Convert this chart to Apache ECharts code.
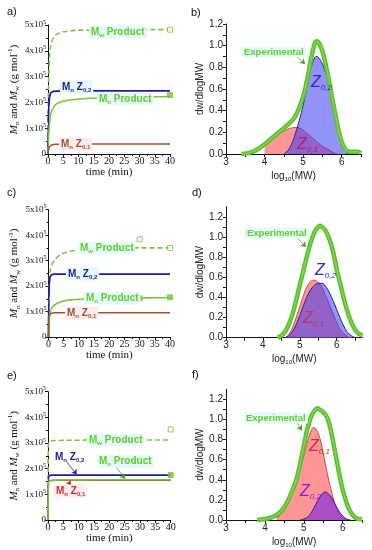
<!DOCTYPE html>
<html><head><meta charset="utf-8">
<script src="https://cdn.jsdelivr.net/npm/echarts@6/dist/echarts.min.js"></script>
<style>html,body{margin:0;padding:0;background:#fff}#c{width:372px;height:550px}</style>
</head><body><div id="c"></div>
<script>
// ---------- DATA ----------
// left panels: time (min)
const tGrid = [0, 0.1, 0.25, 0.5, 0.75, 1, 1.5, 2, 3, 4, 5, 7.5, 10, 15, 20, 25, 30, 35, 40];
// panel a (g/mol)
const aMwProduct = [0, 200000, 300000, 380000, 410000, 425000, 445000, 455000, 465000, 470000, 474000, 478000, 480000, 480000, 481000, 481000, 482000, 482000, 482000];
const aMnZ02 = [0, 120000, 180000, 220000, 232000, 238000, 242000, 243000, 244000, 244000, 244000, 245000, 245000, 245000, 245000, 245000, 245000, 245000, 245000];
const aMnProduct = [0, 40000, 80000, 120000, 145000, 160000, 175000, 185000, 196000, 201000, 205000, 210000, 213000, 217000, 219000, 220000, 221000, 222000, 223000];
const aMnZ01 = [0, 12000, 20000, 28000, 32000, 34000, 36000, 37000, 38000, 38000, 38000, 39000, 39000, 39000, 39000, 39000, 39000, 39000, 39000];
const aMwExp = [[40, 482000]];
const aMnExp = [[40, 228000]];
// panel c
const cMwProduct = [0, 150000, 220000, 255000, 270000, 280000, 293000, 302000, 315000, 324000, 330000, 338000, 342000, 346000, 348000, 350000, 350000, 350000, 350000];
const cMnZ02 = [0, 150000, 210000, 235000, 242000, 244000, 246000, 247000, 247000, 247000, 247000, 247000, 247000, 247000, 247000, 247000, 247000, 247000, 247000];
const cMnProduct = [0, 40000, 70000, 95000, 105000, 112000, 120000, 126000, 133000, 138000, 142000, 146000, 148000, 150000, 151000, 152000, 153000, 154000, 155000];
const cMnZ01 = [0, 78000, 86000, 90000, 92000, 93000, 94000, 95000, 95000, 95000, 95000, 95000, 95000, 95000, 95000, 95000, 95000, 95000, 95000];
const cMwExp = [[30, 384000], [40, 350000]];
const cMnExp = [[30, 152000], [40, 156000]];
// panel e
const eMwProduct = [0, 290000, 300000, 305000, 307000, 308000, 309000, 310000, 310000, 310000, 311000, 311000, 311000, 312000, 312000, 312000, 312000, 312000, 312000];
const eMnZ02 = [0, 160000, 170000, 173000, 174000, 175000, 175000, 175000, 175000, 175000, 175000, 175000, 175000, 175000, 175000, 175000, 175000, 175000, 175000];
const eMnProduct = [0, 145000, 150000, 152000, 153000, 154000, 155000, 155000, 155000, 156000, 156000, 156000, 156000, 157000, 157000, 157000, 157000, 157000, 157000];
const eMnZ01 = [0, 145000, 150000, 152000, 153000, 154000, 154000, 155000, 155000, 155000, 155000, 155000, 155000, 155000, 155000, 155000, 155000, 155000, 155000];
const eMwExp = [[40, 353000]];
const eMnExp = [[40, 175000]];

// right panels: log10(MW) vs dw/dlogMW
const bExpX = [3.4, 3.6, 3.8, 4.0, 4.2, 4.4, 4.6, 4.8, 5.0, 5.1, 5.2, 5.3, 5.35, 5.4, 5.5, 5.6, 5.7, 5.8, 5.9, 6.0, 6.1, 6.2, 6.3, 6.4, 6.5];
const bExpY = [0, 0.01, 0.04, 0.09, 0.15, 0.21, 0.27, 0.35, 0.53, 0.68, 0.87, 1.02, 1.04, 1.03, 0.95, 0.8, 0.62, 0.43, 0.25, 0.11, 0.04, 0.02, 0.02, 0.02, 0.01];
const bZ02X = [4.5, 4.6, 4.7, 4.8, 4.9, 5.0, 5.1, 5.2, 5.3, 5.35, 5.4, 5.5, 5.6, 5.7, 5.8, 5.9, 6.0, 6.1, 6.2];
const bZ02Y = [0, 0.03, 0.09, 0.19, 0.31, 0.45, 0.62, 0.79, 0.89, 0.9, 0.89, 0.83, 0.73, 0.6, 0.42, 0.24, 0.1, 0.02, 0];
const bZ01X = [4.0, 4.1, 4.2, 4.3, 4.4, 4.5, 4.6, 4.7, 4.8, 4.9, 5.0, 5.1, 5.2, 5.3, 5.4, 5.5, 5.6, 5.7, 5.8, 5.9];
const bZ01Y = [0.1, 0.13, 0.15, 0.17, 0.19, 0.21, 0.23, 0.24, 0.245, 0.24, 0.22, 0.19, 0.16, 0.13, 0.1, 0.07, 0.05, 0.03, 0.01, 0];

const dExpX = [4.4, 4.5, 4.6, 4.7, 4.8, 4.9, 5.0, 5.1, 5.2, 5.3, 5.4, 5.5, 5.55, 5.6, 5.7, 5.8, 5.9, 6.0, 6.1, 6.2, 6.3, 6.4, 6.5, 6.6, 6.7];
const dExpY = [0, 0.02, 0.06, 0.13, 0.23, 0.37, 0.52, 0.67, 0.82, 0.95, 1.05, 1.1, 1.11, 1.1, 1.06, 0.98, 0.86, 0.68, 0.53, 0.38, 0.25, 0.15, 0.08, 0.04, 0.02];
const dZ01X = [4.6, 4.7, 4.8, 4.9, 5.0, 5.1, 5.2, 5.3, 5.4, 5.5, 5.6, 5.7, 5.8, 5.9, 6.0, 6.1, 6.2, 6.3, 6.4];
const dZ01Y = [0, 0.03, 0.1, 0.2, 0.31, 0.42, 0.51, 0.56, 0.57, 0.55, 0.5, 0.42, 0.33, 0.24, 0.15, 0.08, 0.04, 0.01, 0];
const dZ02X = [4.6, 4.7, 4.8, 4.9, 5.0, 5.1, 5.2, 5.3, 5.4, 5.5, 5.6, 5.7, 5.8, 5.9, 6.0, 6.1, 6.2, 6.3, 6.4, 6.5];
const dZ02Y = [0, 0.02, 0.06, 0.13, 0.22, 0.32, 0.41, 0.48, 0.52, 0.54, 0.54, 0.51, 0.45, 0.37, 0.28, 0.19, 0.11, 0.05, 0.02, 0];

const fExpX = [3.8, 4.0, 4.2, 4.4, 4.5, 4.6, 4.7, 4.8, 4.9, 5.0, 5.1, 5.2, 5.3, 5.35, 5.4, 5.5, 5.6, 5.7, 5.8, 5.9, 6.0, 6.1, 6.2, 6.3, 6.4, 6.5];
const fExpY = [0, 0.01, 0.03, 0.08, 0.13, 0.2, 0.29, 0.39, 0.55, 0.74, 0.92, 1.04, 1.1, 1.11, 1.1, 1.07, 1.02, 0.88, 0.68, 0.48, 0.3, 0.17, 0.08, 0.03, 0.01, 0.01];
const fZ01X = [4.3, 4.4, 4.5, 4.6, 4.7, 4.8, 4.9, 5.0, 5.1, 5.2, 5.25, 5.3, 5.4, 5.5, 5.6, 5.7, 5.8, 5.9, 6.0, 6.1];
const fZ01Y = [0.02, 0.05, 0.1, 0.17, 0.26, 0.37, 0.5, 0.64, 0.79, 0.9, 0.92, 0.91, 0.83, 0.66, 0.47, 0.3, 0.16, 0.07, 0.02, 0];
const fZ02X = [4.9, 5.0, 5.1, 5.2, 5.3, 5.4, 5.5, 5.55, 5.6, 5.7, 5.8, 5.9, 6.0, 6.1, 6.2];
const fZ02Y = [0, 0.01, 0.03, 0.08, 0.15, 0.22, 0.27, 0.28, 0.27, 0.23, 0.16, 0.09, 0.04, 0.01, 0];

const rightYTicks = [0, 0.2, 0.4, 0.6, 0.8, 1.0, 1.2];
const rightYMinor = [0, 0.1, 0.2, 0.3, 0.4, 0.5, 0.6, 0.7, 0.8, 0.9, 1.0, 1.1, 1.2];
const rightXTicks = [3, 4, 5, 6];
const rightXMinor = [3, 3.5, 4, 4.5, 5, 5.5, 6, 6.5];

// ---------- STYLE ----------
const SERIF = '"Liberation Serif","DejaVu Serif",serif';
const SANS = '"Liberation Sans",Arial,sans-serif';
const GREEN = '#7cc240', GREEN_T = '#5cd02a', BLUE = '#1c1ca6', BROWN = '#a0522d';
const BG_C = '#e6fafa', BG_P = '#fcecef';

const chart = echarts.init(document.getElementById('c'), null, {renderer: 'canvas'});
const pairs = (xs, ys) => xs.map((x, i) => [x, ys[i]]);

const grids = [
  {left: 48, top: 25, width: 122, height: 129},
  {left: 226, top: 24, width: 135, height: 130},
  {left: 48.5, top: 209.7, width: 121.5, height: 127.3},
  {left: 226, top: 206.7, width: 136.5, height: 131},
  {left: 48, top: 391.7, width: 122.7, height: 128.3},
  {left: 226, top: 389.2, width: 136.2, height: 130.8}
].map(g => Object.assign({outerBoundsMode: 'none', containLabel: false}, g));

const axLine = {show: true, onZero: false, lineStyle: {color: '#111', width: 1}};

function leftX(gi) {
  return {gridIndex: gi, type: 'value', min: 0, max: 40, interval: 5,
    axisLine: axLine, splitLine: {show: false},
    axisTick: {length: 3, lineStyle: {color: '#111'}},
    minorTick: {show: true, splitNumber: 2, length: 2, lineStyle: {color: '#111'}},
    axisLabel: {fontFamily: SERIF, fontSize: 10, color: '#111', margin: 2},
    name: 'time (min)', nameLocation: 'middle', nameGap: 13,
    nameTextStyle: {fontFamily: SERIF, fontSize: 11, color: '#111'}};
}
function leftY(gi) {
  return {gridIndex: gi, type: 'value', min: 0, max: 500000, interval: 100000,
    axisLine: axLine, splitLine: {show: false},
    axisTick: {length: 3, lineStyle: {color: '#111'}},
    minorTick: {show: true, splitNumber: 2, length: 2, lineStyle: {color: '#111'}},
    axisLabel: {margin: 2, formatter: v => v === 0 ? '{n|0}' : '{n|' + (v / 100000) + 'x10}{p|5}',
      rich: {n: {fontFamily: SERIF, fontSize: 9, color: '#111', lineHeight: 12},
             p: {fontFamily: SERIF, fontSize: 6, color: '#111', lineHeight: 6, verticalAlign: 'top'}}},
    name: '{i|M}{s|n}{t| and }{i|M}{s|w}{t| (g mol}{p|-1}{t|)}',
    nameLocation: 'middle', nameRotate: 90, nameGap: 27,
    nameTextStyle: {rich: {
      i: {fontFamily: SERIF, fontStyle: 'italic', fontSize: 11, color: '#111', lineHeight: 14},
      s: {fontFamily: SERIF, fontSize: 7, color: '#111', lineHeight: 7, verticalAlign: 'bottom'},
      t: {fontFamily: SERIF, fontSize: 11, color: '#111', lineHeight: 14},
      p: {fontFamily: SERIF, fontSize: 7, color: '#111', lineHeight: 7, verticalAlign: 'top'}}}};
}
function rightX(gi, max, gap) {
  return {gridIndex: gi, type: 'value', min: 3, max: max, interval: 0.5,
    axisLine: axLine, splitLine: {show: false},
    axisTick: {length: 3, customValues: rightXMinor, lineStyle: {color: '#111'}},
    axisLabel: {customValues: rightXTicks, fontFamily: SANS, fontSize: 10, color: '#222', margin: 3},
    name: '{a|log}{s|10}{a|(MW)}', nameLocation: 'middle', nameGap: gap,
    nameTextStyle: {rich: {a: {fontFamily: SANS, fontSize: 10, color: '#222', lineHeight: 12},
      s: {fontFamily: SANS, fontSize: 6, color: '#222', lineHeight: 6, verticalAlign: 'bottom'}}}};
}
function rightY(gi, max) {
  return {gridIndex: gi, type: 'value', min: 0, max: max, interval: 0.1,
    axisLine: axLine, splitLine: {show: false},
    axisTick: {length: 3, customValues: rightYMinor, lineStyle: {color: '#111'}},
    axisLabel: {customValues: rightYTicks, formatter: v => v.toFixed(1), fontFamily: SANS, fontSize: 10, color: '#222', margin: 3},
    name: 'dw/dlogMW', nameLocation: 'middle', nameRotate: 90, nameGap: 21,
    nameTextStyle: {fontFamily: SANS, fontSize: 10, color: '#222'}};
}

function ln(gi, data, color, width, dashed, z) {
  return {type: 'line', xAxisIndex: gi, yAxisIndex: gi, data: pairs(tGrid, data), showSymbol: false,
    smooth: 0.3, smoothMonotone: 'x', silent: true, z: z || 3,
    lineStyle: {color: color, width: width, type: dashed ? [5, 3] : 'solid'}};
}
function pts(gi, data, filled) {
  return {type: 'scatter', xAxisIndex: gi, yAxisIndex: gi, data: data, symbol: 'rect', symbolSize: 5, silent: true, z: 6,
    itemStyle: {color: filled ? GREEN : '#fff', borderColor: GREEN, borderWidth: 1}};
}
function area(gi, xs, ys, fill, line, z) {
  return {type: 'line', xAxisIndex: gi, yAxisIndex: gi, data: pairs(xs, ys), showSymbol: false, smooth: 0.4, silent: true, z: z,
    lineStyle: {color: line, width: 1}, areaStyle: {color: fill}};
}
function expLines(gi, xs, ys, arrow) {
  return [
    {type: 'line', xAxisIndex: gi, yAxisIndex: gi, data: pairs(xs, ys), showSymbol: false, smooth: 0.4, silent: true, z: 8,
      lineStyle: {color: '#45cd27', width: 4.5}},
    {type: 'line', xAxisIndex: gi, yAxisIndex: gi, data: pairs(xs, ys), showSymbol: false, smooth: 0.4, silent: true, z: 9,
      lineStyle: {color: '#b9b860', width: 1.3},
      markLine: {silent: true, symbol: ['none', 'arrow'], symbolSize: 5, label: {show: false},
        lineStyle: {color: '#4a9a2a', width: 0.8, type: 'solid'},
        data: [[{coord: arrow[0]}, {coord: arrow[1]}]]}}
  ];
}
function arrowOn(series, color, a) {
  series.markLine = {silent: true, symbol: ['none', 'arrow'], symbolSize: 5, label: {show: false},
    lineStyle: {color: color, width: 0.8, type: 'solid'}, data: [[{coord: a[0]}, {coord: a[1]}]]};
  return series;
}

const RED_FILL = 'rgba(255,60,60,0.78)', RED_LINE = '#c05050';
const BLUE_FILL = 'rgba(55,55,240,0.78)', BLUE_LINE = '#20209a';

const series = [
  // a
  ln(0, aMwProduct, GREEN, 1.6, true), ln(0, aMnZ02, BLUE, 1.8), ln(0, aMnProduct, GREEN, 1.6), ln(0, aMnZ01, BROWN, 1.6),
  pts(0, aMwExp, false), pts(0, aMnExp, true),
  // c
  ln(2, cMwProduct, GREEN, 1.6, true), ln(2, cMnZ02, BLUE, 1.8), ln(2, cMnProduct, GREEN, 1.6), ln(2, cMnZ01, BROWN, 1.6),
  pts(2, cMwExp, false), pts(2, cMnExp, true),
  // e
  ln(4, eMwProduct, GREEN, 1.6, true),
  arrowOn(ln(4, eMnZ02, BLUE, 1.8), BLUE, [[6.1, 227000], [9.4, 177000]]),
  arrowOn(ln(4, eMnProduct, GREEN, 1.6, false, 4), '#4aa02a', [[21.3, 221000], [25.1, 160000]]),
  arrowOn(ln(4, eMnZ01, BROWN, 1.6), '#c03030', [[6.1, 124000], [7.4, 153000]]),
  pts(4, eMwExp, false), pts(4, eMnExp, true),
  // b
  area(1, bZ01X, bZ01Y, RED_FILL, RED_LINE, 4), area(1, bZ02X, bZ02Y, BLUE_FILL, BLUE_LINE, 5),
  ...expLines(1, bExpX, bExpY, [[4.81, 0.91], [5.05, 0.83]]),
  // d
  area(3, dZ01X, dZ01Y, RED_FILL, RED_LINE, 4), area(3, dZ02X, dZ02Y, BLUE_FILL, BLUE_LINE, 5),
  ...expLines(3, dExpX, dExpY, [[4.9, 1.0], [5.17, 0.9]]),
  // f
  area(5, fZ01X, fZ01Y, RED_FILL, RED_LINE, 4), area(5, fZ02X, fZ02Y, 'rgba(100,20,235,0.78)', '#3a1a9a', 5),
  ...expLines(5, fExpX, fExpY, [[4.8, 0.98], [4.95, 0.89]])
];

// ---------- annotations ----------
function lbl(x, y, text, color, bg) {
  return {type: 'text', x: x, y: y, z: 100, silent: true,
    style: {text: text, verticalAlign: 'middle', align: 'left', backgroundColor: bg, padding: [1, 2, 0, 2],
      rich: {b: {fontFamily: SANS, fontWeight: 'bold', fontSize: 10, fill: color, color: color, lineHeight: 12},
             s: {fontFamily: SANS, fontWeight: 'bold', fontSize: 6, fill: color, color: color, lineHeight: 6, verticalAlign: 'bottom'}}}};
}
function zl(x, y, sub, color) {
  return {type: 'text', x: x, y: y, z: 100, silent: true,
    style: {text: '{z|Z}{s|' + sub + '}', verticalAlign: 'middle', align: 'left',
      rich: {z: {fontFamily: SANS, fontStyle: 'italic', fontSize: 16, fill: color, color: color, lineHeight: 18},
             s: {fontFamily: SANS, fontStyle: 'italic', fontSize: 8, fill: color, color: color, lineHeight: 8, verticalAlign: 'bottom'}}}};
}
function expL(x, y) {
  return {type: 'text', x: x, y: y, z: 100, silent: true,
    style: {text: 'Experimental', fontFamily: SANS, fontWeight: 'bold', fontSize: 9.5, fill: '#5cd02a',
      backgroundColor: BG_C, padding: [1, 2, 0, 2], verticalAlign: 'middle', align: 'left'}};
}
function pl(x, y, t) {
  return {type: 'text', x: x, y: y, z: 100, silent: true,
    style: {text: t, fontFamily: SANS, fontSize: 11, fill: '#111', verticalAlign: 'middle', align: 'left'}};
}
const MW = '{b|M}{s|w}{b| Product}', MN = '{b|M}{s|n}{b| Product}', Z2 = '{b|M}{s|n}{b| Z}{s|0,2}', Z1 = '{b|M}{s|n}{b| Z}{s|0,1}';

const graphic = [
  pl(7, 12, 'a)'), pl(191, 13, 'b)'), pl(7, 193, 'c)'), pl(192, 193, 'd)'), pl(7, 376, 'e)'), pl(192, 375, 'f)'),
  // a
  lbl(89, 32, MW, GREEN_T, BG_C), lbl(60, 87, Z2, BLUE, BG_C), lbl(97, 99, MN, GREEN_T, BG_C), lbl(59, 144, Z1, BROWN, BG_P),
  // c
  lbl(78, 248, MW, GREEN_T, BG_C), lbl(66, 274, Z2, BLUE, BG_C), lbl(84, 298, MN, GREEN_T, BG_C), lbl(65, 313, Z1, BROWN, BG_P),
  // e
  lbl(87, 440, MW, GREEN_T, BG_C), lbl(53, 457, Z2, BLUE, 'rgba(0,0,0,0)'), lbl(97, 461, MN, GREEN_T, BG_C), lbl(54, 491, Z1, '#d03030', BG_P),
  // b
  expL(242, 52), zl(311, 83, '0,2', '#2a2ad0'), zl(297, 145, '0,1', '#a8208a'),
  // d
  expL(245, 233), zl(315, 271, '0,2', '#2a2ad0'), zl(303, 319, '0,1', '#c03060'),
  // f
  expL(244, 418), zl(309, 447, '0,1', '#c03040'), zl(300, 492, '0,2', '#8a1ad0')
];

chart.setOption({
  animation: false,
  backgroundColor: '#fff',
  grid: grids,
  xAxis: [leftX(0), rightX(1, 6.5, 16), leftX(2), rightX(3, 6.7, 16), leftX(4), rightX(5, 6.5, 16)],
  yAxis: [leftY(0), rightY(1, 1.2), leftY(2), rightY(3, 1.3), leftY(4), rightY(5, 1.3)],
  series: series,
  graphic: graphic
});
</script>
</body></html>
